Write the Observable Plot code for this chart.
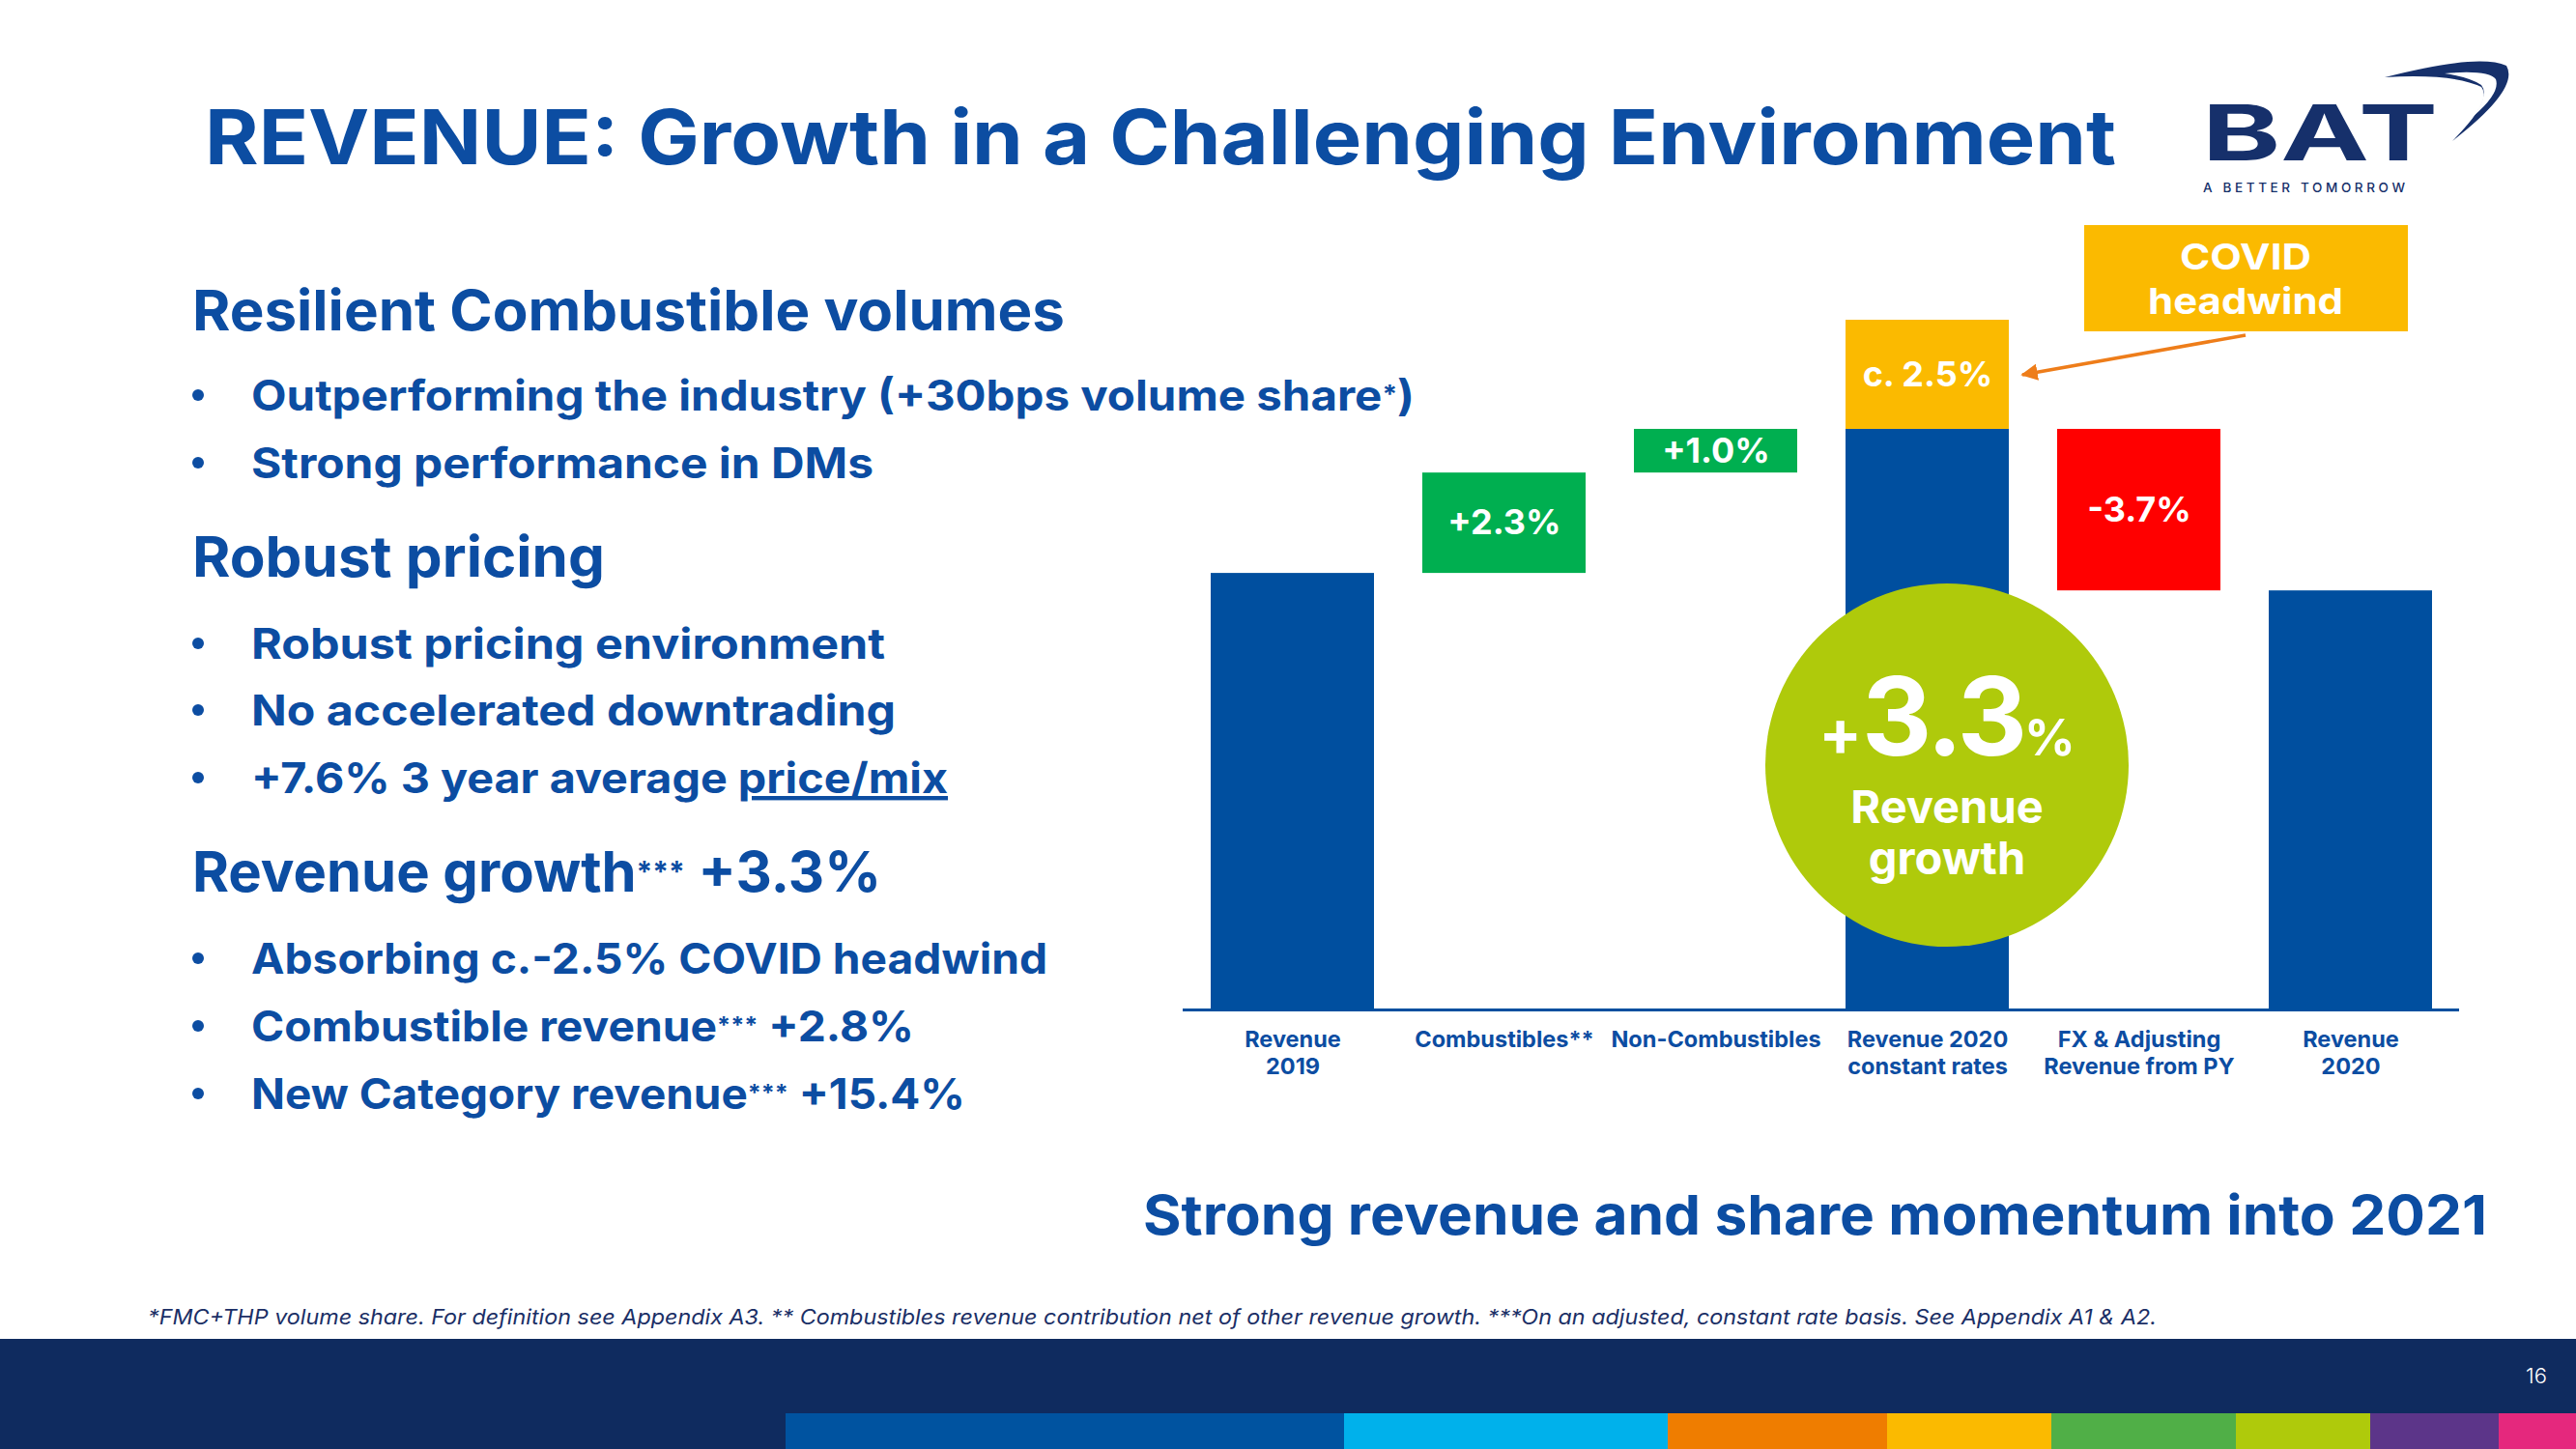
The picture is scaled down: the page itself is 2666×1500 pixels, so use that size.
<!DOCTYPE html>
<html><head><meta charset="utf-8">
<script src="https://cdn.jsdelivr.net/npm/d3@7"></script>
<script src="https://cdn.jsdelivr.net/npm/@observablehq/plot@0.6"></script>
<style>
html,body{margin:0;padding:0;background:#fff;}
#page{position:relative;width:2666px;height:1500px;overflow:hidden;background:#fff;font-family:Inter,"Open Sans",sans-serif;}
#chart{position:absolute;left:1200px;top:200px;}
#overlay{position:absolute;left:0;top:0;pointer-events:none;}
</style></head>
<body><div id="page"><div id="chart"></div>
<svg id="overlay" width="2666" height="1500" font-family="Inter, 'Open Sans', sans-serif">
  <defs>
    <marker id="ah" viewBox="0 0 10 10" refX="9" refY="5" markerWidth="5" markerHeight="5" orient="auto-start-reverse">
      <path d="M0,0 L10,5 L0,10 z" fill="#EE7D1A"/>
    </marker>
  </defs>
  <!-- title -->
  <text x="212" y="170" font-size="78" font-weight="700" fill="#0C4DA2" textLength="1978" lengthAdjust="spacingAndGlyphs">REVENUE: Growth in a Challenging Environment</text>
  <!-- logo -->
  <text x="2279" y="166" font-size="80" font-weight="700" fill="#16306B" textLength="244" lengthAdjust="spacingAndGlyphs">BAT</text>
  <path d="M2468,80 Q2565,55 2594,68 Q2608,92 2538,146 Q2580,104 2568,90 Q2540,76 2468,80 Z" fill="#16306B"/>
  <path d="M2530,76 Q2575,72 2583,82 Q2588,96 2560,120 Q2576,98 2568,88 Q2556,80 2530,76 Z" fill="#ffffff"/>
  <text x="2280" y="199" font-size="13.5" font-weight="500" fill="#16306B" textLength="209" lengthAdjust="spacing">A BETTER TOMORROW</text>

  <!-- left text -->
  <g fill="#0C4DA2" font-weight="700">
    <text x="199" y="342" font-size="58" textLength="903" lengthAdjust="spacingAndGlyphs">Resilient Combustible volumes</text>
    <circle cx="205" cy="409" r="6"/>
    <text x="260" y="425" font-size="44" textLength="1204" lengthAdjust="spacingAndGlyphs">Outperforming the industry (+30bps volume share<tspan font-size="26" dy="-8">*</tspan><tspan dy="8">)</tspan></text>
    <circle cx="205" cy="479" r="6"/>
    <text x="260" y="495" font-size="44" textLength="644" lengthAdjust="spacingAndGlyphs">Strong performance in DMs</text>

    <text x="199" y="597" font-size="58" textLength="427" lengthAdjust="spacingAndGlyphs">Robust pricing</text>
    <circle cx="205" cy="666" r="6"/>
    <text x="260" y="682" font-size="44" textLength="656" lengthAdjust="spacingAndGlyphs">Robust pricing environment</text>
    <circle cx="205" cy="735" r="6"/>
    <text x="260" y="751" font-size="44" textLength="667" lengthAdjust="spacingAndGlyphs">No accelerated downtrading</text>
    <circle cx="205" cy="805" r="6"/>
    <text x="260" y="821" font-size="44" textLength="721" lengthAdjust="spacingAndGlyphs">+7.6% 3 year average <tspan text-decoration="underline">price/mix</tspan></text>

    <text x="199" y="923" font-size="58" textLength="713" lengthAdjust="spacingAndGlyphs">Revenue growth<tspan font-size="30" dy="-10">***</tspan><tspan dy="10"> +3.3%</tspan></text>
    <circle cx="205" cy="992" r="6"/>
    <text x="260" y="1008" font-size="44" textLength="824" lengthAdjust="spacingAndGlyphs">Absorbing c.-2.5% COVID headwind</text>
    <circle cx="205" cy="1062" r="6"/>
    <text x="260" y="1078" font-size="44" textLength="686" lengthAdjust="spacingAndGlyphs">Combustible revenue<tspan font-size="24" dy="-8">***</tspan><tspan dy="8"> +2.8%</tspan></text>
    <circle cx="205" cy="1132" r="6"/>
    <text x="260" y="1148" font-size="44" textLength="739" lengthAdjust="spacingAndGlyphs">New Category revenue<tspan font-size="24" dy="-8">***</tspan><tspan dy="8"> +15.4%</tspan></text>
  </g>

  <!-- COVID annotation -->
  <rect x="2157" y="233" width="335" height="110" fill="#FBBA00"/>
  <text x="2324" y="279" font-size="37.5" font-weight="700" fill="#fff" text-anchor="middle" textLength="136" lengthAdjust="spacingAndGlyphs">COVID</text>
  <text x="2324" y="325" font-size="37.5" font-weight="700" fill="#fff" text-anchor="middle" textLength="202" lengthAdjust="spacingAndGlyphs">headwind</text>
  <line x1="2324" y1="347" x2="2093" y2="388" stroke="#EE7D1A" stroke-width="3.5" marker-end="url(#ah)"/>

  <!-- growth bubble -->
  <circle cx="2015" cy="792" r="188" fill="#AFCA0B"/>
  <text x="2015" y="782" fill="#fff" font-weight="700" text-anchor="middle"><tspan font-size="66">+</tspan><tspan font-size="112" letter-spacing="-3">3.3</tspan><tspan font-size="52">%</tspan></text>
  <text x="2015" y="852" font-size="47" font-weight="700" fill="#fff" text-anchor="middle">Revenue</text>
  <text x="2015" y="905" font-size="47" font-weight="700" fill="#fff" text-anchor="middle">growth</text>

  <!-- tagline -->
  <text x="1183" y="1278" font-size="57" font-weight="700" fill="#0C4DA2" textLength="1391" lengthAdjust="spacingAndGlyphs">Strong revenue and share momentum into 2021</text>

  <!-- footnote -->
  <text x="153" y="1371" font-size="21" font-style="italic" fill="#1B2F66" textLength="2079" lengthAdjust="spacingAndGlyphs">*FMC+THP volume share. For definition see Appendix A3. ** Combustibles revenue contribution net of other revenue growth. ***On an adjusted, constant rate basis.  See Appendix A1 &amp; A2.</text>

  <!-- footer -->
  <rect x="0" y="1386" width="2666" height="114" fill="#0F2B5F"/>
  <text x="2636" y="1432" font-size="22" font-weight="300" fill="#fff" text-anchor="end">16</text>
  <rect x="813" y="1463" width="578" height="37" fill="#0053A0"/>
  <rect x="1391" y="1463" width="335" height="37" fill="#00B1EB"/>
  <rect x="1726" y="1463" width="227" height="37" fill="#EF7D00"/>
  <rect x="1953" y="1463" width="170" height="37" fill="#FBBA00"/>
  <rect x="2123" y="1463" width="191" height="37" fill="#50AF47"/>
  <rect x="2314" y="1463" width="139" height="37" fill="#AFCA0B"/>
  <rect x="2453" y="1463" width="133" height="37" fill="#5C3589"/>
  <rect x="2586" y="1463" width="80" height="37" fill="#E5287D"/>
</svg>
</div>
<script>
// Waterfall steps as drawn on the slide (schematic index, Revenue 2019 = 100)
const categories = ["Revenue\n2019", "Combustibles**", "Non-Combustibles", "Revenue 2020\nconstant rates", "FX & Adjusting\nRevenue from PY", "Revenue\n2020"];
const barLow  = [0, 100, 123, 0, 96, 0];
const barHigh = [100, 123, 133, 133, 133, 96];
const barKind = ["total", "increase", "increase", "total", "decrease", "total"];
const barLabels = ["", "+2.3%", "+1.0%", "", "-3.7%", ""];
const covidLow = [133];
const covidHigh = [158];
const covidLabel = ["c. 2.5%"];

const kindColor = {total: "#004F9F", increase: "#00AF50", decrease: "#FF0000"};
const bars = categories.map((c, i) => ({cat: c, lo: barLow[i], hi: barHigh[i], kind: barKind[i], label: barLabels[i]}));
const covid = covidLow.map((lo, i) => ({cat: categories[3], lo, hi: covidHigh[i], label: covidLabel[i]}));

const chart = Plot.plot({
  width: 1400, height: 920,
  marginLeft: 24, marginRight: 55, marginTop: 131, marginBottom: 75,
  style: {fontFamily: "Inter, 'Open Sans', sans-serif", background: "transparent", overflow: "visible"},
  x: {domain: categories, paddingInner: 0.23, paddingOuter: 0.12},
  y: {domain: [0, 158], axis: null},
  color: {type: "identity"},
  marks: [
    Plot.barY(bars, {x: "cat", y1: "lo", y2: "hi", fill: d => kindColor[d.kind]}),
    Plot.barY(covid, {x: "cat", y1: "lo", y2: "hi", fill: "#FBBA00"}),
    Plot.ruleY([0], {stroke: "#004F9F", strokeWidth: 3}),
    Plot.text(bars.filter(d => d.label), {x: "cat", y: d => (d.lo + d.hi) / 2, text: "label", fill: "white", fontSize: 36, fontWeight: 700}),
    Plot.text(covid, {x: "cat", y: d => (d.lo + d.hi) / 2, text: "label", fill: "white", fontSize: 36, fontWeight: 700}),
    Plot.axisX({tickSize: 0, tickPadding: 18, fontSize: 23.5, fontWeight: 700, color: "#0C4DA2", lineHeight: 1.2, label: null})
  ]
});
document.getElementById("chart").appendChild(chart);
</script>
</body></html>
